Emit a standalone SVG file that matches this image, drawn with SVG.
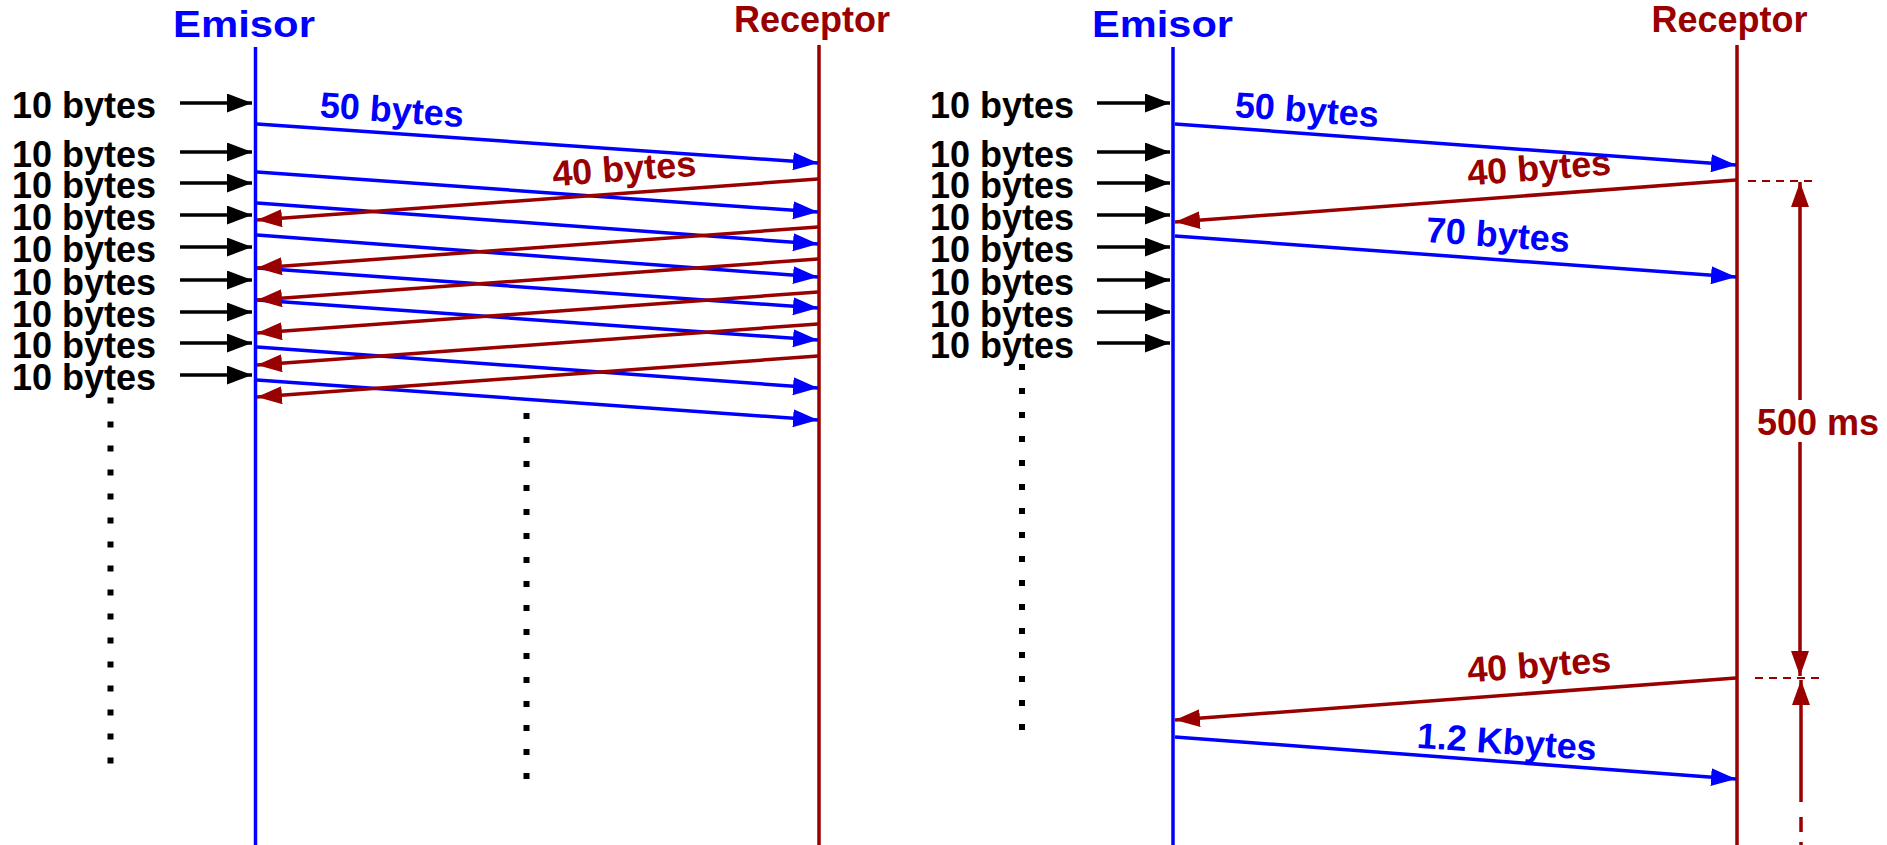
<svg xmlns="http://www.w3.org/2000/svg" width="1887" height="845" viewBox="0 0 1887 845">
<style>
text{font-family:"Liberation Sans",Arial,sans-serif;font-weight:bold;font-size:36px}
.b{fill:#0000ff}.r{fill:#990000}.k{fill:#000}
.lb{stroke:#0000ff;stroke-width:3.5;fill:none}
.lr{stroke:#990000;stroke-width:3.5;fill:none}
.lk{stroke:#000;stroke-width:3.5;fill:none}
.dot{stroke:#000;stroke-width:6;stroke-dasharray:6 18;fill:none}
.dash{stroke:#990000;stroke-width:2;stroke-dasharray:8 6;fill:none}
.mb{marker-end:url(#ab)}.mr{marker-end:url(#ar)}.mk{marker-end:url(#ak)}
</style>
<defs>
<marker id="ab" markerUnits="userSpaceOnUse" markerWidth="25" markerHeight="18" refX="25" refY="9" orient="auto"><path d="M0,0 L25,9 L0,18 z" fill="#0000ff"/></marker>
<marker id="ar" markerUnits="userSpaceOnUse" markerWidth="25" markerHeight="18" refX="25" refY="9" orient="auto"><path d="M0,0 L25,9 L0,18 z" fill="#990000"/></marker>
<marker id="ak" markerUnits="userSpaceOnUse" markerWidth="25" markerHeight="19" refX="25" refY="9.5" orient="auto"><path d="M0,0 L25,9.5 L0,19 z" fill="#000"/></marker>
</defs>
<rect width="1887" height="845" fill="#fff"/>

<!-- Left panel -->
<g id="left-emisor">
<text class="b" x="244" y="37" text-anchor="middle" textLength="142" lengthAdjust="spacingAndGlyphs">Emisor</text>
<line class="lb" x1="255.5" y1="47" x2="255.5" y2="845"/>
</g>
<g id="left-receptor">
<text class="r" x="812" y="32" text-anchor="middle">Receptor</text>
<line class="lr" x1="819" y1="45" x2="819" y2="845"/>
</g>
<g id="left-inputs">
<text class="k" x="12" y="118">10 bytes</text>
<text class="k" x="12" y="167">10 bytes</text>
<text class="k" x="12" y="198">10 bytes</text>
<text class="k" x="12" y="230">10 bytes</text>
<text class="k" x="12" y="262">10 bytes</text>
<text class="k" x="12" y="295">10 bytes</text>
<text class="k" x="12" y="327">10 bytes</text>
<text class="k" x="12" y="358">10 bytes</text>
<text class="k" x="12" y="390">10 bytes</text>
</g>
<g id="left-dots">
<path class="dot" d="M110.5 397.5 V764"/>
<path class="dot" d="M526.5 413 V780"/>
</g>
<g id="left-labels">
<text class="b" x="391" y="122" text-anchor="middle" transform="rotate(4 391 122)">50 bytes</text>
<text class="r" x="625" y="181" text-anchor="middle" transform="rotate(-4.2 625 181)">40 bytes</text>
</g>

<!-- Right panel -->
<g id="right-emisor">
<text class="b" x="1162.5" y="37" text-anchor="middle" textLength="141" lengthAdjust="spacingAndGlyphs">Emisor</text>
<line class="lb" x1="1173" y1="47" x2="1173" y2="845"/>
</g>
<g id="right-receptor">
<text class="r" x="1729.5" y="32" text-anchor="middle">Receptor</text>
<line class="lr" x1="1737" y1="45" x2="1737" y2="845"/>
</g>
<g id="right-inputs">
<text class="k" x="930" y="118">10 bytes</text>
<text class="k" x="930" y="167">10 bytes</text>
<text class="k" x="930" y="198">10 bytes</text>
<text class="k" x="930" y="230">10 bytes</text>
<text class="k" x="930" y="262">10 bytes</text>
<text class="k" x="930" y="295">10 bytes</text>
<text class="k" x="930" y="327">10 bytes</text>
<text class="k" x="930" y="358">10 bytes</text>
</g>
<g id="right-dots">
<path class="dot" d="M1022 364 V731"/>
</g>
<g id="right-labels">
<text class="b" x="1306" y="122" text-anchor="middle" transform="rotate(4 1306 122)">50 bytes</text>
<text class="r" x="1540" y="180" text-anchor="middle" transform="rotate(-4.3 1540 180)">40 bytes</text>
<text class="b" x="1497" y="247" text-anchor="middle" transform="rotate(4 1497 247)">70 bytes</text>
<text class="r" x="1540" y="677" text-anchor="middle" transform="rotate(-4.3 1540 677)">40 bytes</text>
<text class="b" x="1506" y="754" text-anchor="middle" transform="rotate(4 1506 754)">1.2 Kbytes</text>
</g>
<g id="timer">
<line class="dash" x1="1748" y1="181" x2="1812" y2="181"/>
<line class="dash" x1="1755" y1="678" x2="1819" y2="678"/>
<text class="r" x="1818" y="435" text-anchor="middle">500 ms</text>
</g>

<g id="connectors">
<!-- left input arrows -->
<line class="lk mk" x1="180" y1="103" x2="252" y2="103"/>
<line class="lk mk" x1="180" y1="152" x2="252" y2="152"/>
<line class="lk mk" x1="180" y1="183" x2="252" y2="183"/>
<line class="lk mk" x1="180" y1="215" x2="252" y2="215"/>
<line class="lk mk" x1="180" y1="247" x2="252" y2="247"/>
<line class="lk mk" x1="180" y1="280" x2="252" y2="280"/>
<line class="lk mk" x1="180" y1="312" x2="252" y2="312"/>
<line class="lk mk" x1="180" y1="343" x2="252" y2="343"/>
<line class="lk mk" x1="180" y1="375" x2="252" y2="375"/>
<!-- left blue messages -->
<line class="lb mb" x1="257" y1="124" x2="818" y2="163"/>
<line class="lb mb" x1="257" y1="172" x2="818" y2="212"/>
<line class="lb mb" x1="257" y1="203" x2="818" y2="244"/>
<line class="lb mb" x1="257" y1="235" x2="818" y2="277"/>
<line class="lb mb" x1="257" y1="268" x2="818" y2="308"/>
<line class="lb mb" x1="257" y1="300" x2="818" y2="340"/>
<line class="lb mb" x1="257" y1="347" x2="818" y2="388"/>
<line class="lb mb" x1="257" y1="380" x2="818" y2="420"/>
<!-- left red messages -->
<line class="lr mr" x1="818" y1="179" x2="257" y2="220"/>
<line class="lr mr" x1="818" y1="227" x2="257" y2="268"/>
<line class="lr mr" x1="818" y1="259" x2="257" y2="300"/>
<line class="lr mr" x1="818" y1="292" x2="257" y2="333"/>
<line class="lr mr" x1="818" y1="324" x2="257" y2="365"/>
<line class="lr mr" x1="818" y1="356" x2="257" y2="397"/>
<!-- right input arrows -->
<line class="lk mk" x1="1097" y1="103" x2="1170" y2="103"/>
<line class="lk mk" x1="1097" y1="152" x2="1170" y2="152"/>
<line class="lk mk" x1="1097" y1="183" x2="1170" y2="183"/>
<line class="lk mk" x1="1097" y1="215" x2="1170" y2="215"/>
<line class="lk mk" x1="1097" y1="247" x2="1170" y2="247"/>
<line class="lk mk" x1="1097" y1="280" x2="1170" y2="280"/>
<line class="lk mk" x1="1097" y1="312" x2="1170" y2="312"/>
<line class="lk mk" x1="1097" y1="343" x2="1170" y2="343"/>
<!-- right messages -->
<line class="lb mb" x1="1175" y1="124" x2="1736" y2="165"/>
<line class="lr mr" x1="1736" y1="180" x2="1175" y2="222"/>
<line class="lb mb" x1="1175" y1="236" x2="1736" y2="277"/>
<line class="lr mr" x1="1736" y1="678" x2="1175" y2="720"/>
<line class="lb mb" x1="1175" y1="737" x2="1736" y2="779"/>
<!-- 500 ms dimension -->
<line class="lr mr" x1="1800" y1="400" x2="1800" y2="182"/>
<line class="lr mr" x1="1800" y1="442" x2="1800" y2="676"/>
<line class="lr mr" x1="1801" y1="802" x2="1801" y2="680"/>
<path class="lr" d="M1801 817 V832 M1801 842 V845"/>
</g>
</svg>
